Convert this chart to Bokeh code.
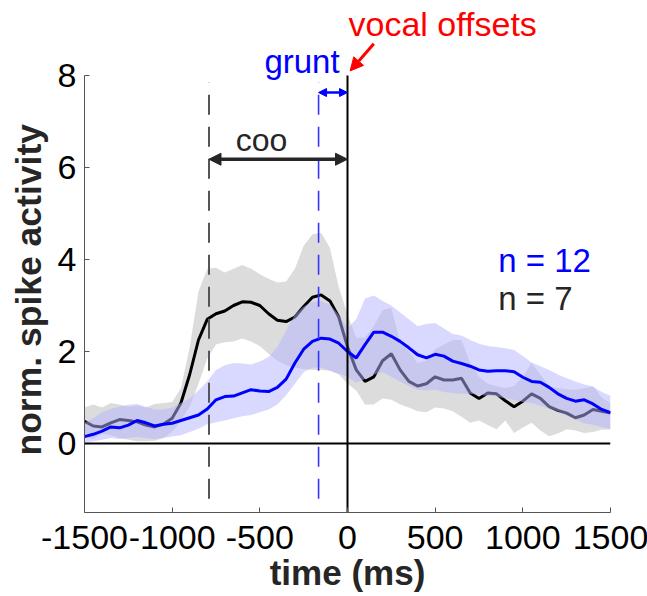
from bokeh.plotting import figure
from bokeh.models import Label, Arrow, NormalHead, Span, FixedTicker, Range1d, Title
from bokeh.embed import file_html
from bokeh.resources import INLINE

# ---------------- data ----------------
time_ms = list(range(-1500, 1501, 50))

coo_mean = [0.48, 0.38, 0.36, 0.45, 0.52, 0.50, 0.47, 0.40, 0.36, 0.42,
            0.55, 0.88, 1.50, 2.25, 2.70, 2.82, 2.88, 3.00, 3.08, 3.07,
            3.00, 2.82, 2.68, 2.65, 2.75, 2.98, 3.18, 3.23, 3.10, 2.75,
            2.10, 1.60, 1.35, 1.45, 1.80, 1.95, 1.60, 1.35, 1.25, 1.30,
            1.45, 1.38, 1.38, 1.42, 1.10, 0.98, 1.10, 1.08, 0.93, 0.80,
            0.92, 1.08, 0.98, 0.80, 0.72, 0.66, 0.56, 0.62, 0.74, 0.70, 0.66]
coo_upper = [0.78, 0.85, 0.78, 0.88, 0.85, 0.80, 0.82, 0.78, 0.86, 0.88,
             0.90, 1.20, 2.10, 3.30, 3.80, 3.82, 3.72, 3.80, 3.88, 3.80,
             3.68, 3.58, 3.50, 3.52, 3.80, 4.30, 4.55, 4.58, 4.25, 3.40,
             2.80, 2.30, 2.30, 2.55, 2.90, 2.95, 2.20, 2.00, 1.75, 1.80,
             2.05, 2.15, 2.25, 2.25, 1.75, 1.45, 1.30, 1.25, 1.20, 1.25,
             1.45, 1.75, 1.50, 1.25, 1.20, 1.18, 1.17, 1.20, 1.24, 1.00, 0.88]
coo_lower = [0.16, 0.10, 0.22, 0.18, 0.12, 0.08, 0.05, 0.05, 0.06, 0.12,
             0.25, 0.50, 0.80, 1.30, 1.85, 2.15, 2.20, 2.22, 2.28, 2.22,
             2.12, 1.95, 1.80, 1.70, 1.65, 1.62, 1.60, 1.60, 1.58, 1.50,
             1.30, 1.15, 0.85, 0.85, 0.98, 0.95, 0.85, 0.78, 0.70, 0.68,
             0.78, 0.76, 0.70, 0.58, 0.45, 0.50, 0.40, 0.31, 0.50, 0.23,
             0.35, 0.45, 0.28, 0.16, 0.22, 0.31, 0.28, 0.23, 0.25, 0.30, 0.31]

grunt_mean = [0.15, 0.20, 0.27, 0.36, 0.34, 0.40, 0.50, 0.45, 0.38, 0.42,
              0.44, 0.50, 0.56, 0.62, 0.75, 0.95, 1.02, 1.03, 1.10, 1.17,
              1.14, 1.13, 1.22, 1.40, 1.75, 2.05, 2.22, 2.29, 2.27, 2.18,
              2.00, 1.86, 2.15, 2.42, 2.42, 2.33, 2.22, 2.08, 1.93, 1.86,
              1.94, 1.90, 1.79, 1.74, 1.68, 1.60, 1.57, 1.58, 1.58, 1.56,
              1.44, 1.35, 1.33, 1.22, 1.08, 0.98, 0.92, 0.95, 0.86, 0.74, 0.67]
grunt_upper = [0.45, 0.55, 0.68, 0.75, 0.80, 0.84, 0.86, 0.80, 0.74, 0.74,
               0.78, 0.88, 0.98, 1.15, 1.35, 1.60, 1.70, 1.75, 1.74, 1.72,
               1.78, 1.88, 2.10, 2.45, 2.80, 2.98, 3.08, 3.09, 3.02, 2.80,
               2.50, 2.70, 3.15, 3.22, 3.10, 3.00, 2.85, 2.70, 2.55, 2.60,
               2.62, 2.50, 2.38, 2.35, 2.25, 2.17, 2.12, 2.10, 2.07, 2.03,
               1.90, 1.76, 1.68, 1.60, 1.50, 1.42, 1.35, 1.28, 1.24, 1.12, 1.04]
grunt_lower = [0.02, 0.05, 0.08, 0.12, 0.10, 0.12, 0.14, 0.12, 0.10, 0.12,
               0.15, 0.18, 0.25, 0.32, 0.42, 0.46, 0.50, 0.55, 0.59, 0.62,
               0.68, 0.74, 0.85, 1.05, 1.30, 1.55, 1.65, 1.65, 1.58, 1.52,
               1.45, 1.32, 1.40, 1.50, 1.55, 1.45, 1.35, 1.25, 1.17, 1.15,
               1.17, 1.12, 1.10, 1.08, 1.08, 1.06, 1.04, 1.02, 0.98, 0.95,
               0.90, 0.88, 0.82, 0.76, 0.70, 0.60, 0.52, 0.44, 0.41, 0.36, 0.31]

onset_times = [-790, -165]          # coo onset, grunt onset (ms)
onset_colors = ["#555555", "#3535ff"]
x_ticks = [-1500, -1000, -500, 0, 500, 1000, 1500]
x_tick_labels = ["-1500", "-1000", "-500", "0", "500", "1000", "1500"]
y_ticks = [0, 2, 4, 6, 8]
y_min, y_max = -1.5, 8

FONT = "Liberation Sans"
BLUE = "#0000ff"
DARK = "#262626"

# data area 526 x 437 px, extended upward so the annotations above it are drawn
px_per_unit = 437 / (y_max - y_min)
top_extra = 75 / px_per_unit

p = figure(frame_width=526, frame_height=512, output_backend="svg",
           toolbar_location=None,
           x_range=Range1d(-1500, 1500),
           y_range=Range1d(y_min, y_max + top_extra),
           min_border_left=81, min_border_top=0, min_border_right=40,
           min_border_bottom=80)
p.outline_line_color = None
p.grid.visible = False
p.background_fill_color = "white"

# bands and lines
p.varea(x=time_ms, y1=coo_lower, y2=coo_upper, fill_color="#dcdcdc", fill_alpha=1.0)
p.line(time_ms, coo_mean, line_color="black", line_width=3)
p.varea(x=time_ms, y1=grunt_lower, y2=grunt_upper, fill_color="#b3b3ff", fill_alpha=0.5)
p.line(time_ms, grunt_mean, line_color=BLUE, line_width=3)

# reference lines
p.add_layout(Span(location=0, dimension="width", line_color="black", line_width=2))
p.segment(x0=[0], y0=[y_min], x1=[0], y1=[y_max], line_color="black", line_width=2)
p.segment(x0=onset_times, y0=[-1.2, -1.2], x1=onset_times, y1=[7.85, 7.85],
          line_color=onset_colors, line_width=[2, 1.6], line_dash="20 12")

# axes
for ax in (p.xaxis[0], p.yaxis[0]):
    ax.axis_line_color = "#555555"
    ax.axis_line_width = 1
    ax.major_tick_line_color = "#555555"
    ax.major_tick_in = 5
    ax.major_tick_out = 0
    ax.minor_tick_line_color = None
    ax.major_label_text_font = FONT
    ax.major_label_text_font_size = "34px"
    ax.major_label_text_color = "black"
    ax.axis_label_text_font = FONT
    ax.axis_label_text_font_style = "bold"
    ax.axis_label_text_color = DARK

p.yaxis.bounds = (y_min, y_max)
p.xaxis.ticker = FixedTicker(ticks=x_ticks)
p.xaxis.major_label_overrides = dict(zip(x_ticks, x_tick_labels))
p.yaxis.ticker = FixedTicker(ticks=y_ticks)
p.xaxis.axis_label = "time (ms)"
p.xaxis.axis_label_text_font_size = "35px"
p.xaxis.major_label_standoff = 13
p.xaxis.axis_label_standoff = 1
p.yaxis.major_label_standoff = 8

# y-axis title, placed along the data part of the axis
p.add_layout(Title(text="norm. spike activity", align="left", offset=57,
                   vertical_align="bottom", standoff=12,
                   text_font=FONT, text_font_size="35.5px", text_font_style="bold",
                   text_color=DARK), "left")

# annotations (y = visual middle of each text)
p.add_layout(Label(x=0, y=8, x_offset=1, y_offset=52, text="vocal offsets",
                   text_color="red", text_font=FONT, text_font_size="34px",
                   text_baseline="middle"))
p.add_layout(Arrow(x_start=150, y_start=8.69, x_end=15, y_end=8.1,
                   line_color="red", line_width=3,
                   end=NormalHead(size=13, fill_color="red", line_color="red")))
p.add_layout(Label(x=-45, y=8, y_offset=14, text="grunt", text_color=BLUE,
                   text_font=FONT, text_font_size="33px", text_align="right",
                   text_baseline="middle"))
p.add_layout(Arrow(x_start=-165, y_start=7.63, x_end=0, y_end=7.63,
                   line_color=BLUE, line_width=2.5,
                   start=NormalHead(size=8, fill_color=BLUE, line_color=BLUE),
                   end=NormalHead(size=8, fill_color=BLUE, line_color=BLUE)))
p.add_layout(Label(x=-490, y=6.59, text="coo", text_color=DARK,
                   text_font=FONT, text_font_size="32px", text_align="center",
                   text_baseline="middle"))
p.add_layout(Arrow(x_start=-790, y_start=6.18, x_end=0, y_end=6.18,
                   line_color=DARK, line_width=3.5,
                   start=NormalHead(size=12, fill_color=DARK, line_color=DARK),
                   end=NormalHead(size=12, fill_color=DARK, line_color=DARK)))
p.add_layout(Label(x=860, y=3.97, text="n = 12", text_color=BLUE,
                   text_font=FONT, text_font_size="33px",
                   text_baseline="middle"))
p.add_layout(Label(x=860, y=3.16, text="n = 7", text_color=DARK,
                   text_font=FONT, text_font_size="33px",
                   text_baseline="middle"))

open("out.html", "w").write(file_html(p, INLINE))
